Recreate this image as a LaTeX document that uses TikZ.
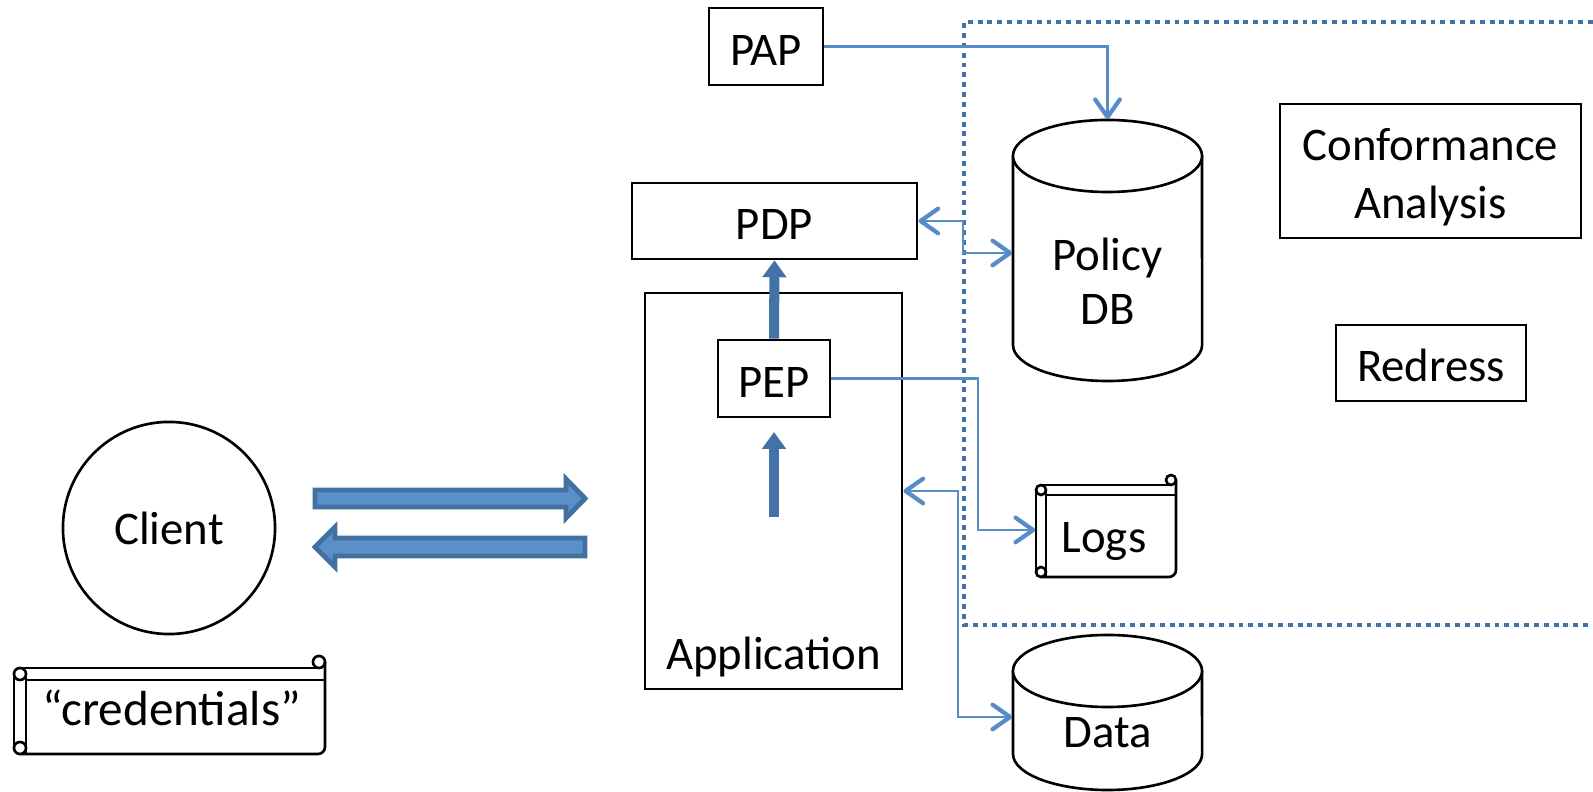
\documentclass[tikz,border=0pt]{standalone}
\usepackage{fontspec}
\setmainfont{Carlito}
\usetikzlibrary{arrows.meta,calc}
\definecolor{conn}{RGB}{88,140,200}
\definecolor{dotc}{RGB}{66,113,165}
\definecolor{thk}{RGB}{68,114,168}
\definecolor{bigfill}{RGB}{91,143,201}
\definecolor{bigedge}{RGB}{65,113,160}
\newcommand{\scrollshape}[5]{%
  \pgfmathsetmacro{\scrr}{#5*0.005*28.4528}%
  \fill[white] ({#1},{#2+#5}) rectangle ({#3},{#4});
  \draw[scr] ({#1+#5/2},{#2+#5}) -- ({#3-#5/2},{#2+#5});
  \draw[scr,fill=white] ({#3-#5/2},{#2+#5/2}) circle[radius=\scrr pt];
  \draw[scr,rounded corners=2pt] ({#3},{#2+#5/2}) -- ({#3},{#4}) -- ({#1+#5/2},{#4});
  \draw[scr] ({#1+#5},{#2+2*#5}) -- ({#3},{#2+2*#5});
  \draw[scr,fill=white] ({#1+#5/2},{#2+1.5*#5}) circle[radius=\scrr pt];
  \draw[scr] ({#1},{#2+1.5*#5}) -- ({#1},{#4-#5/2});
  \draw[scr] ({#1+#5},{#2+1.5*#5}) -- ({#1+#5},{#4});
  \draw[scr,fill=white] ({#1+#5/2},{#4-#5/2}) circle[radius=\scrr pt];
}
\begin{document}
\begin{tikzpicture}[x=0.01cm,y=-0.01cm,
  font=\fontsize{13.3}{16.4}\selectfont,
  box/.style={draw, line width=0.75pt, fill=white, inner sep=0pt, align=center},
  onel/.style={text height=10.6pt, text depth=0pt},
  ghost/.style={inner sep=0pt},
  txt/.style={inner sep=0pt, align=center},
  scr/.style={line width=0.75pt},
  cyl/.style={line width=0.75pt, fill=white},
  tip/.tip={Straight Barb[length=5pt,width=7pt,line width=1.2pt,round]},
  conn/.style={draw=conn, line width=0.6pt},
  thickarr/.style={draw=thk, line width=2.85pt, -{Triangle[length=4.8pt,width=6.6pt]}},
  bigarr/.style={fill=bigfill, draw=bigedge, line width=1.4pt, line join=miter},
  dotbox/.style={draw=dotc, line width=1.4pt, dash pattern=on 1.4pt off 1.4pt}]
\useasboundingbox (0,0) rectangle (1593,792);

% dotted region
\draw[dotbox] (1593,22) -- (964,22) -- (964,625) -- (1593,625);

% boxes
\node[box, onel, minimum width=1.14cm, minimum height=0.77cm] (pap) at (766,46.5) {PAP};
\node[box, minimum width=2.57cm, minimum height=3.96cm] (app) at (773.5,491) {};
\node[txt] (applbl) at (773.5,657) {Application};
\node[box, onel, minimum width=1.12cm, minimum height=0.77cm] (pep) at (774,378.5) {PEP};
\node[box, onel, minimum width=2.85cm, minimum height=0.76cm] (pdp) at (774.5,221) {PDP};
\node[box, minimum width=3.01cm, minimum height=1.34cm] (conf) at (1430.5,171) {};
\node[txt] (conftxt) at (1430.5,177) {Conformance\\Analysis};
\node[box, onel, minimum width=1.90cm, minimum height=0.76cm] (redress) at (1431,363) {Redress};
\node[draw, circle, line width=0.75pt, minimum size=2.12cm, inner sep=0pt] (client) at (169,528) {Client};

% Policy DB cylinder
\draw[cyl] (1013,156) -- (1013,345) arc[start angle=180, end angle=360, x radius=0.945cm, y radius=0.36cm] -- (1202,156);
\draw[cyl] (1107.5,156) ellipse[x radius=0.945cm, y radius=0.36cm];
\node[ghost, minimum width=1.89cm, minimum height=2.61cm] (pdb) at (1107.5,250.5) {};
\node[txt] (pdbtxt) at (1107.5,281) {Policy\\[-1pt]DB};

% Data cylinder
\draw[cyl] (1013,671) -- (1013,754) arc[start angle=180, end angle=360, x radius=0.945cm, y radius=0.36cm] -- (1202,671);
\draw[cyl] (1107.5,671) ellipse[x radius=0.945cm, y radius=0.36cm];
\node[ghost, minimum width=1.89cm, minimum height=1.55cm] (data) at (1107.5,712.5) {};
\node[txt] (datatxt) at (1107.5,733) {Data};

% scrolls
\scrollshape{1036}{475}{1176}{577}{10}
\node[ghost, minimum width=1.40cm, minimum height=1.02cm] (logs) at (1106,526) {};
\node[txt] (logstxt) at (1104,542) {Logs};
\scrollshape{14}{656}{325}{754}{12}
\node[ghost, minimum width=3.11cm, minimum height=0.98cm] (cred) at (169.5,705) {};
\node[txt, font=\fontsize{14}{17}\selectfont] (credtxt) at (172,708) {“credentials”};

% thin connectors
\draw[conn, -tip] (pap.east) -| (pdb.north);
\draw[conn, tip-tip] (pdp.east) -- (963,221) |- (pdb.west |- 0,253);
\draw[conn, -tip] (pep.east) -- (978,378.5) |- (logs.west |- 0,530);
\draw[conn, tip-tip] (app.east) -- (958,491) |- (data.west |- 0,717);

% thick vertical arrows
\draw[thickarr] (pep.north) -- (pdp.south);
\coordinate (upa) at (774,517);
\coordinate (upb) at (774,432);
\draw[thickarr] (upa) -- (upb);

% big horizontal arrows
\draw[bigarr] (315,490) -- (566,490) -- (566,479) -- (585,498.5) -- (566,518) -- (566,507) -- (315,507) -- cycle;
\draw[bigarr] (585,538) -- (335,538) -- (335,527) -- (315,547) -- (335,567) -- (335,556) -- (585,556) -- cycle;
\end{tikzpicture}
\end{document}
